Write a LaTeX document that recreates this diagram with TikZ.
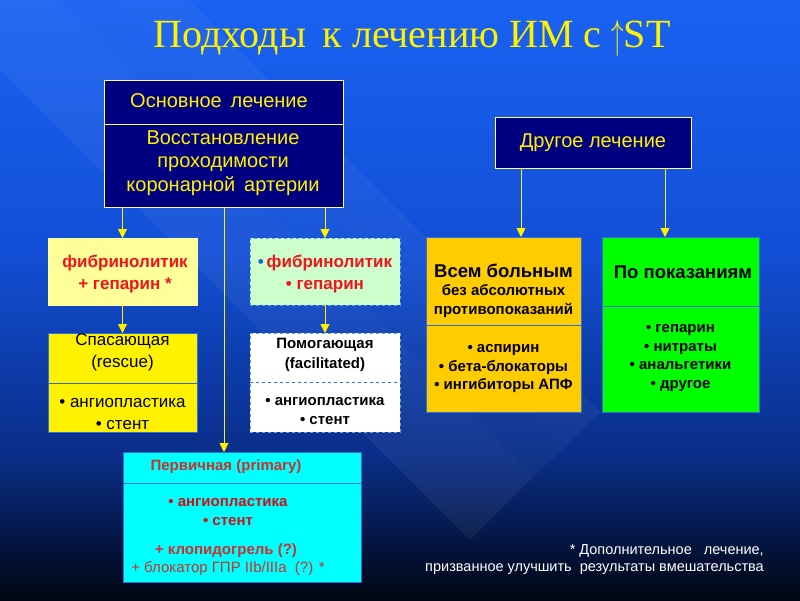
\documentclass[tikz,border=0pt]{standalone}
\usepackage{fontspec}
\usepackage{graphicx}
\setmainfont{Liberation Sans}
\newfontfamily\titlefont{Liberation Serif}
\usetikzlibrary{arrows.meta}
\definecolor{bgA}{HTML}{1A62F2}
\definecolor{bgB}{HTML}{124FD6}
\definecolor{bgC}{HTML}{0A2D86}
\definecolor{bgD}{HTML}{000512}
\definecolor{navybox}{HTML}{000080}
\definecolor{paleline}{HTML}{FFFF99}
\definecolor{lightyel}{HTML}{FFFF99}
\definecolor{lightgrn}{HTML}{CCFFCC}
\definecolor{orangebox}{HTML}{FFCC00}
\definecolor{greenbox}{HTML}{00FF00}
\definecolor{cyanbox}{HTML}{00FFFF}
\definecolor{blueline}{HTML}{2F6FD8}
\definecolor{dashline}{HTML}{5FA0E8}
\definecolor{redtxt}{HTML}{F0141E}
\definecolor{darkred}{HTML}{C8322E}
\definecolor{bulblue}{HTML}{1E64D8}
\newcommand{\fsz}[1]{\fontsize{#1}{#1}\selectfont}
\begin{document}
\begin{tikzpicture}[x=1pt,y=-1pt,
  box/.style={rectangle, inner sep=0pt, outer sep=0pt, line width=0.8pt},
  txt/.style={inner sep=0pt, align=center},
  arr/.style={draw=yellow, line width=0.9pt, -{Triangle[width=9pt,length=9pt,fill=yellow]}}]
\useasboundingbox (0,0) rectangle (800,600);
% background
\fill[top color=bgA, bottom color=bgB] (0,0) rectangle (800,250);
\fill[top color=bgB, bottom color=bgC] (0,250) rectangle (800,460);
\fill[top color=bgC, bottom color=bgD] (0,460) rectangle (800,600);
\begin{scope}
\clip (0,0) rectangle (800,600);
\fill[white, opacity=0.05] (470,540) -- (535,475) -- (-65,-125) -- (-130,-60) -- cycle;
\fill[white, opacity=0.045] (566,446) -- (600,412) -- (100,-88) -- (66,-54) -- cycle;
\fill[white, opacity=0.035] (536,475) -- (566,446) -- (66,-54) -- (36,-25) -- cycle;
\end{scope}
% title
\node[txt, text=yellow, font=\titlefont\fsz{40}] (title) at (412,38) {Подходы\, к лечению ИМ с \raisebox{-1pt}{\scalebox{1}[1.65]{$\uparrow$}}ST};
% main box
\node[box, draw=paleline, fill=navybox, minimum width=239pt, minimum height=127pt] (main) at (223.5,143.5) {};
\draw[paleline, line width=0.8pt] (104,124) -- (343,124);
\node[txt, text=yellow, font=\fsz{20}] (mainT) at (219,101) {Основное\, лечение};
\node[txt, text=yellow, font=\fsz{20}, execute at begin node=\setlength{\baselineskip}{23.5pt}] (mainB) at (223,163) {Восстановление\\проходимости\\коронарной\, артерии};
% other box
\node[box, draw=paleline, fill=navybox, minimum width=196pt, minimum height=51pt] (other) at (593,142.5) {};
\node[txt, text=yellow, font=\fsz{20}] (otherT) at (593,143) {Другое лечение};
% fib1
\node[box, draw=lightyel, fill=lightyel, minimum width=149pt, minimum height=67pt] (fib1) at (122.5,271.5) {};
\node[txt, text=redtxt, font=\bfseries\fsz{17}, execute at begin node=\setlength{\baselineskip}{21.5pt}] (fib1T) at (125,274) {фибринолитик\\+ гепарин *};
% fib2
\node[box, draw=dashline, dashed, fill=lightgrn, minimum width=150pt, minimum height=67pt] (fib2) at (325,271.5) {};
\node[txt, text=redtxt, font=\bfseries\fsz{17}, execute at begin node=\setlength{\baselineskip}{21.5pt}] (fib2T) at (325,274) {{\color{bulblue}\textbullet}\,фибринолитик\\\textbullet\ гепарин};
% rescue
\node[box, draw=blueline, fill=yellow, minimum width=149pt, minimum height=99pt] (rescue) at (122.5,382.5) {};
\draw[blueline, line width=0.8pt] (48,383) -- (197,383);
\node[txt, text=black, font=\fsz{17}, execute at begin node=\setlength{\baselineskip}{22pt}] (rescueT) at (122.5,352) {Спасающая\\(rescue)};
\node[txt, text=black, font=\fsz{17}, execute at begin node=\setlength{\baselineskip}{21.5pt}] (rescueB) at (122.5,414) {\textbullet\ ангиопластика\\\textbullet\ стент};
% facilitated
\node[box, draw=dashline, dashed, fill=white, minimum width=150pt, minimum height=99pt] (facil) at (325,382.5) {};
\draw[blueline, dashed, line width=0.8pt] (250,382) -- (400,382);
\node[txt, text=black, font=\bfseries\fsz{15}, execute at begin node=\setlength{\baselineskip}{19.5pt}] (facilT) at (325,355) {Помогающая\\(facilitated)};
\node[txt, text=black, font=\bfseries\fsz{15}, execute at begin node=\setlength{\baselineskip}{19pt}] (facilB) at (325,411) {\textbullet\ ангиопластика\\\textbullet\ стент};
% all patients
\node[box, draw=blueline, fill=orangebox, minimum width=155pt, minimum height=175pt] (all) at (503.5,324.5) {};
\draw[blueline, line width=0.8pt] (426,325) -- (581,325);
\node[txt, text=black, font=\bfseries\fsz{18.5}] (allT) at (503.5,271) {Всем больным};
\node[txt, text=black, font=\bfseries\fsz{15}, execute at begin node=\setlength{\baselineskip}{18.5pt}] (allT2) at (503.5,301) {без абсолютных\\противопоказаний};
\node[txt, text=black, font=\bfseries\fsz{15}, execute at begin node=\setlength{\baselineskip}{18.5pt}] (allB) at (503.5,369) {\textbullet\ аспирин\\\textbullet\ бета-блокаторы\\\textbullet\ ингибиторы АПФ};
% indications
\node[box, draw=blueline, fill=greenbox, minimum width=157pt, minimum height=175pt] (indic) at (680.5,324.5) {};
\draw[blueline, line width=0.8pt] (602,306) -- (759,306);
\node[txt, text=black, font=\bfseries\fsz{18.5}] (indicT) at (683,272) {По показаниям};
\node[txt, text=black, font=\bfseries\fsz{15}, execute at begin node=\setlength{\baselineskip}{18.4pt}] (indicB) at (680.5,358) {\textbullet\ гепарин\\\textbullet\ нитраты\\\textbullet\ анальгетики\\\textbullet\ другое};
% primary
\node[box, draw=blueline, fill=cyanbox, minimum width=238pt, minimum height=130pt] (primary) at (242,517) {};
\draw[blueline, line width=0.8pt] (123,483) -- (361,483);
\node[txt, text=darkred, font=\bfseries\fsz{15}] (primT) at (226,467) {Первичная (primary)};
\node[txt, text=redtxt!85!black, font=\bfseries\fsz{15}, execute at begin node=\setlength{\baselineskip}{18.5pt}] (primB) at (228,512) {\textbullet\ ангиопластика\\\textbullet\ стент};
\node[txt, text=darkred, font=\bfseries\fsz{15}] (primC) at (226,551) {+ клопидогрель (?)};
\node[txt, text=darkred, font=\fsz{15}] (primD) at (228,569) {+ блокатор ГПР IIb/IIIa\ \ (?) *};
% footnote
\node[txt, text=white, font=\fsz{14.5}, anchor=east] (foot1) at (764,551) {* Дополнительное\ \ \ лечение,};
\node[txt, text=white, font=\fsz{14.5}, anchor=east] (foot2) at (764,569) {призванное улучшить\ \ результаты вмешательства};
% connectors
\draw[arr] (fib1.north |- main.south) -- (fib1.north);
\draw[arr] (fib2.north |- main.south) -- (fib2.north);
\coordinate (mp) at ([xshift=-18pt]primary.north);
\draw[arr] (mp |- main.south) -- (mp);
\draw[arr] (fib1.south) -- (rescue.north);
\draw[arr] (fib2.south) -- (facil.north);
\coordinate (o1) at ([xshift=26pt]other.south west);
\coordinate (o2) at ([xshift=-26pt]other.south east);
\draw[arr] (o1) -- (o1 |- all.north);
\draw[arr] (o2) -- (o2 |- indic.north);
\end{tikzpicture}
\end{document}
